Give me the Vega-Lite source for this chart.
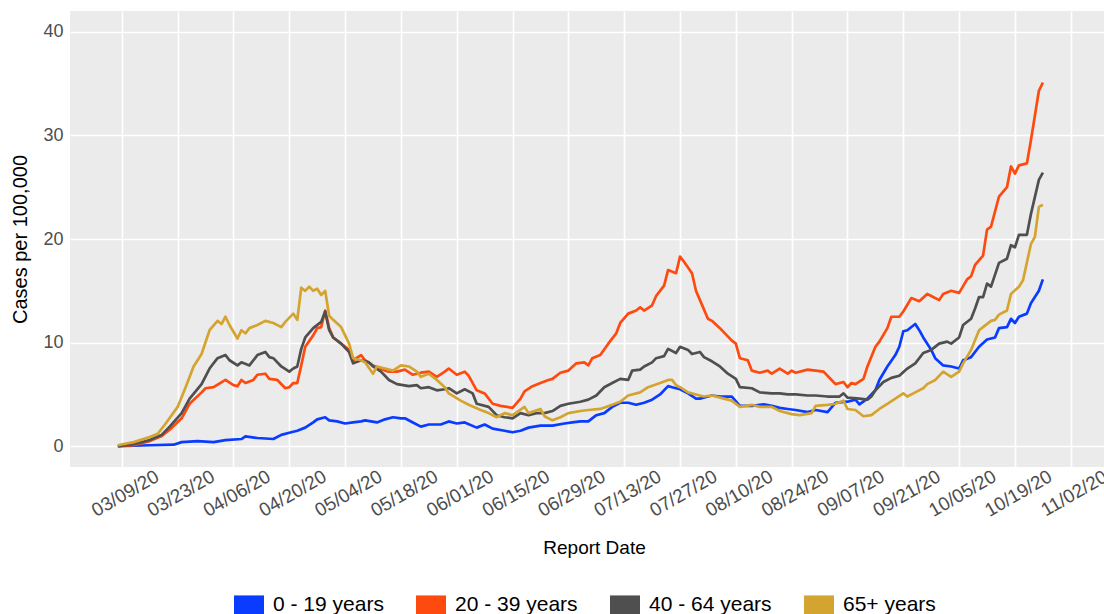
{
"$schema": "https://vega.github.io/schema/vega-lite/v6.json",
"autosize": {"type": "none"},
"padding": {"left": 70, "top": 11, "right": 0, "bottom": 147},
"width": 1034,
"height": 456,
"background": "#ffffff",
"config": {
  "view": {"fill": "#EBEBEB", "stroke": null},
  "font": "Liberation Sans"
},
"title": {"text": "7-Day Moving Average", "fontSize": 20, "fontWeight": "normal", "color": "#000000", "anchor": "middle", "baseline": "alphabetic", "offset": 9, "dx": 7, "frame": "group"},
"data": {"values": [
{"d":"2020-03-08","g":"0 - 19 years","v":0.0},
{"d":"2020-03-12","g":"0 - 19 years","v":0.05},
{"d":"2020-03-16","g":"0 - 19 years","v":0.1},
{"d":"2020-03-22","g":"0 - 19 years","v":0.15},
{"d":"2020-03-24","g":"0 - 19 years","v":0.4},
{"d":"2020-03-28","g":"0 - 19 years","v":0.5},
{"d":"2020-04-01","g":"0 - 19 years","v":0.4},
{"d":"2020-04-04","g":"0 - 19 years","v":0.6},
{"d":"2020-04-08","g":"0 - 19 years","v":0.7},
{"d":"2020-04-09","g":"0 - 19 years","v":0.95},
{"d":"2020-04-12","g":"0 - 19 years","v":0.8},
{"d":"2020-04-16","g":"0 - 19 years","v":0.7},
{"d":"2020-04-18","g":"0 - 19 years","v":1.1},
{"d":"2020-04-20","g":"0 - 19 years","v":1.3},
{"d":"2020-04-22","g":"0 - 19 years","v":1.5},
{"d":"2020-04-24","g":"0 - 19 years","v":1.8},
{"d":"2020-04-26","g":"0 - 19 years","v":2.3},
{"d":"2020-04-27","g":"0 - 19 years","v":2.6},
{"d":"2020-04-29","g":"0 - 19 years","v":2.8},
{"d":"2020-04-30","g":"0 - 19 years","v":2.5},
{"d":"2020-05-02","g":"0 - 19 years","v":2.4},
{"d":"2020-05-04","g":"0 - 19 years","v":2.2},
{"d":"2020-05-06","g":"0 - 19 years","v":2.3},
{"d":"2020-05-08","g":"0 - 19 years","v":2.4},
{"d":"2020-05-09","g":"0 - 19 years","v":2.5},
{"d":"2020-05-12","g":"0 - 19 years","v":2.3},
{"d":"2020-05-14","g":"0 - 19 years","v":2.6},
{"d":"2020-05-16","g":"0 - 19 years","v":2.8},
{"d":"2020-05-18","g":"0 - 19 years","v":2.7},
{"d":"2020-05-19","g":"0 - 19 years","v":2.7},
{"d":"2020-05-21","g":"0 - 19 years","v":2.3},
{"d":"2020-05-23","g":"0 - 19 years","v":1.9},
{"d":"2020-05-25","g":"0 - 19 years","v":2.1},
{"d":"2020-05-28","g":"0 - 19 years","v":2.1},
{"d":"2020-05-30","g":"0 - 19 years","v":2.4},
{"d":"2020-06-01","g":"0 - 19 years","v":2.2},
{"d":"2020-06-03","g":"0 - 19 years","v":2.3},
{"d":"2020-06-06","g":"0 - 19 years","v":1.8},
{"d":"2020-06-08","g":"0 - 19 years","v":2.1},
{"d":"2020-06-10","g":"0 - 19 years","v":1.7},
{"d":"2020-06-13","g":"0 - 19 years","v":1.5},
{"d":"2020-06-15","g":"0 - 19 years","v":1.35},
{"d":"2020-06-17","g":"0 - 19 years","v":1.5},
{"d":"2020-06-19","g":"0 - 19 years","v":1.8},
{"d":"2020-06-22","g":"0 - 19 years","v":2.0},
{"d":"2020-06-25","g":"0 - 19 years","v":2.0},
{"d":"2020-06-28","g":"0 - 19 years","v":2.2},
{"d":"2020-06-30","g":"0 - 19 years","v":2.3},
{"d":"2020-07-02","g":"0 - 19 years","v":2.4},
{"d":"2020-07-04","g":"0 - 19 years","v":2.4},
{"d":"2020-07-06","g":"0 - 19 years","v":3.0},
{"d":"2020-07-08","g":"0 - 19 years","v":3.2},
{"d":"2020-07-10","g":"0 - 19 years","v":3.8},
{"d":"2020-07-12","g":"0 - 19 years","v":4.2},
{"d":"2020-07-14","g":"0 - 19 years","v":4.2},
{"d":"2020-07-16","g":"0 - 19 years","v":4.0},
{"d":"2020-07-18","g":"0 - 19 years","v":4.2},
{"d":"2020-07-20","g":"0 - 19 years","v":4.5},
{"d":"2020-07-22","g":"0 - 19 years","v":5.0},
{"d":"2020-07-24","g":"0 - 19 years","v":5.8},
{"d":"2020-07-25","g":"0 - 19 years","v":5.7},
{"d":"2020-07-27","g":"0 - 19 years","v":5.5},
{"d":"2020-07-29","g":"0 - 19 years","v":5.1},
{"d":"2020-07-31","g":"0 - 19 years","v":4.6},
{"d":"2020-08-01","g":"0 - 19 years","v":4.6},
{"d":"2020-08-03","g":"0 - 19 years","v":4.8},
{"d":"2020-08-04","g":"0 - 19 years","v":4.9},
{"d":"2020-08-06","g":"0 - 19 years","v":4.8},
{"d":"2020-08-09","g":"0 - 19 years","v":4.8},
{"d":"2020-08-11","g":"0 - 19 years","v":3.9},
{"d":"2020-08-14","g":"0 - 19 years","v":3.9},
{"d":"2020-08-17","g":"0 - 19 years","v":4.05},
{"d":"2020-08-19","g":"0 - 19 years","v":3.9},
{"d":"2020-08-21","g":"0 - 19 years","v":3.7},
{"d":"2020-08-23","g":"0 - 19 years","v":3.6},
{"d":"2020-08-25","g":"0 - 19 years","v":3.5},
{"d":"2020-08-28","g":"0 - 19 years","v":3.3},
{"d":"2020-08-30","g":"0 - 19 years","v":3.5},
{"d":"2020-09-02","g":"0 - 19 years","v":3.3},
{"d":"2020-09-04","g":"0 - 19 years","v":4.2},
{"d":"2020-09-07","g":"0 - 19 years","v":4.3},
{"d":"2020-09-09","g":"0 - 19 years","v":4.5},
{"d":"2020-09-10","g":"0 - 19 years","v":4.05},
{"d":"2020-09-12","g":"0 - 19 years","v":4.6},
{"d":"2020-09-14","g":"0 - 19 years","v":5.4},
{"d":"2020-09-15","g":"0 - 19 years","v":6.4},
{"d":"2020-09-17","g":"0 - 19 years","v":7.7},
{"d":"2020-09-19","g":"0 - 19 years","v":8.8},
{"d":"2020-09-20","g":"0 - 19 years","v":9.6},
{"d":"2020-09-21","g":"0 - 19 years","v":11.1},
{"d":"2020-09-22","g":"0 - 19 years","v":11.2},
{"d":"2020-09-24","g":"0 - 19 years","v":11.8},
{"d":"2020-09-25","g":"0 - 19 years","v":11.2},
{"d":"2020-09-26","g":"0 - 19 years","v":10.5},
{"d":"2020-09-28","g":"0 - 19 years","v":9.3},
{"d":"2020-09-29","g":"0 - 19 years","v":8.5},
{"d":"2020-10-01","g":"0 - 19 years","v":7.8},
{"d":"2020-10-03","g":"0 - 19 years","v":7.7},
{"d":"2020-10-05","g":"0 - 19 years","v":7.5},
{"d":"2020-10-06","g":"0 - 19 years","v":8.3},
{"d":"2020-10-08","g":"0 - 19 years","v":8.6},
{"d":"2020-10-10","g":"0 - 19 years","v":9.6},
{"d":"2020-10-12","g":"0 - 19 years","v":10.3},
{"d":"2020-10-14","g":"0 - 19 years","v":10.5},
{"d":"2020-10-15","g":"0 - 19 years","v":11.4},
{"d":"2020-10-17","g":"0 - 19 years","v":11.5},
{"d":"2020-10-18","g":"0 - 19 years","v":12.3},
{"d":"2020-10-19","g":"0 - 19 years","v":11.9},
{"d":"2020-10-20","g":"0 - 19 years","v":12.5},
{"d":"2020-10-22","g":"0 - 19 years","v":12.8},
{"d":"2020-10-23","g":"0 - 19 years","v":13.8},
{"d":"2020-10-25","g":"0 - 19 years","v":15.0},
{"d":"2020-10-26","g":"0 - 19 years","v":16.1},
{"d":"2020-03-08","g":"20 - 39 years","v":0.0},
{"d":"2020-03-12","g":"20 - 39 years","v":0.1},
{"d":"2020-03-16","g":"20 - 39 years","v":0.5},
{"d":"2020-03-19","g":"20 - 39 years","v":1.0},
{"d":"2020-03-21","g":"20 - 39 years","v":1.6},
{"d":"2020-03-24","g":"20 - 39 years","v":2.7},
{"d":"2020-03-26","g":"20 - 39 years","v":4.1},
{"d":"2020-03-29","g":"20 - 39 years","v":5.2},
{"d":"2020-03-30","g":"20 - 39 years","v":5.6},
{"d":"2020-04-01","g":"20 - 39 years","v":5.7},
{"d":"2020-04-04","g":"20 - 39 years","v":6.4},
{"d":"2020-04-06","g":"20 - 39 years","v":5.9},
{"d":"2020-04-07","g":"20 - 39 years","v":5.8},
{"d":"2020-04-08","g":"20 - 39 years","v":6.4},
{"d":"2020-04-09","g":"20 - 39 years","v":6.1},
{"d":"2020-04-11","g":"20 - 39 years","v":6.4},
{"d":"2020-04-12","g":"20 - 39 years","v":6.9},
{"d":"2020-04-14","g":"20 - 39 years","v":7.0},
{"d":"2020-04-15","g":"20 - 39 years","v":6.5},
{"d":"2020-04-17","g":"20 - 39 years","v":6.4},
{"d":"2020-04-19","g":"20 - 39 years","v":5.6},
{"d":"2020-04-20","g":"20 - 39 years","v":5.7},
{"d":"2020-04-21","g":"20 - 39 years","v":6.1},
{"d":"2020-04-22","g":"20 - 39 years","v":6.1},
{"d":"2020-04-23","g":"20 - 39 years","v":7.8},
{"d":"2020-04-24","g":"20 - 39 years","v":9.6},
{"d":"2020-04-26","g":"20 - 39 years","v":10.7},
{"d":"2020-04-27","g":"20 - 39 years","v":11.4},
{"d":"2020-04-28","g":"20 - 39 years","v":11.5},
{"d":"2020-04-29","g":"20 - 39 years","v":13.1},
{"d":"2020-04-30","g":"20 - 39 years","v":11.4},
{"d":"2020-05-01","g":"20 - 39 years","v":10.5},
{"d":"2020-05-03","g":"20 - 39 years","v":9.9},
{"d":"2020-05-05","g":"20 - 39 years","v":9.3},
{"d":"2020-05-06","g":"20 - 39 years","v":8.3},
{"d":"2020-05-08","g":"20 - 39 years","v":8.8},
{"d":"2020-05-09","g":"20 - 39 years","v":8.3},
{"d":"2020-05-11","g":"20 - 39 years","v":7.8},
{"d":"2020-05-14","g":"20 - 39 years","v":7.3},
{"d":"2020-05-15","g":"20 - 39 years","v":7.2},
{"d":"2020-05-17","g":"20 - 39 years","v":7.2},
{"d":"2020-05-19","g":"20 - 39 years","v":7.4},
{"d":"2020-05-21","g":"20 - 39 years","v":6.9},
{"d":"2020-05-23","g":"20 - 39 years","v":7.1},
{"d":"2020-05-25","g":"20 - 39 years","v":7.2},
{"d":"2020-05-27","g":"20 - 39 years","v":6.7},
{"d":"2020-05-29","g":"20 - 39 years","v":7.2},
{"d":"2020-05-30","g":"20 - 39 years","v":7.5},
{"d":"2020-06-01","g":"20 - 39 years","v":6.9},
{"d":"2020-06-03","g":"20 - 39 years","v":7.2},
{"d":"2020-06-04","g":"20 - 39 years","v":6.8},
{"d":"2020-06-06","g":"20 - 39 years","v":5.4},
{"d":"2020-06-08","g":"20 - 39 years","v":5.1},
{"d":"2020-06-10","g":"20 - 39 years","v":4.1},
{"d":"2020-06-12","g":"20 - 39 years","v":3.9},
{"d":"2020-06-15","g":"20 - 39 years","v":3.7},
{"d":"2020-06-17","g":"20 - 39 years","v":4.6},
{"d":"2020-06-18","g":"20 - 39 years","v":5.3},
{"d":"2020-06-20","g":"20 - 39 years","v":5.8},
{"d":"2020-06-22","g":"20 - 39 years","v":6.1},
{"d":"2020-06-24","g":"20 - 39 years","v":6.4},
{"d":"2020-06-25","g":"20 - 39 years","v":6.5},
{"d":"2020-06-27","g":"20 - 39 years","v":7.1},
{"d":"2020-06-29","g":"20 - 39 years","v":7.3},
{"d":"2020-07-01","g":"20 - 39 years","v":8.0},
{"d":"2020-07-03","g":"20 - 39 years","v":8.1},
{"d":"2020-07-04","g":"20 - 39 years","v":7.8},
{"d":"2020-07-05","g":"20 - 39 years","v":8.5},
{"d":"2020-07-07","g":"20 - 39 years","v":8.8},
{"d":"2020-07-09","g":"20 - 39 years","v":9.9},
{"d":"2020-07-11","g":"20 - 39 years","v":10.9},
{"d":"2020-07-12","g":"20 - 39 years","v":11.9},
{"d":"2020-07-14","g":"20 - 39 years","v":12.8},
{"d":"2020-07-16","g":"20 - 39 years","v":13.1},
{"d":"2020-07-17","g":"20 - 39 years","v":13.4},
{"d":"2020-07-18","g":"20 - 39 years","v":13.1},
{"d":"2020-07-20","g":"20 - 39 years","v":13.6},
{"d":"2020-07-21","g":"20 - 39 years","v":14.5},
{"d":"2020-07-23","g":"20 - 39 years","v":15.5},
{"d":"2020-07-24","g":"20 - 39 years","v":17.0},
{"d":"2020-07-26","g":"20 - 39 years","v":16.7},
{"d":"2020-07-27","g":"20 - 39 years","v":18.3},
{"d":"2020-07-28","g":"20 - 39 years","v":17.8},
{"d":"2020-07-30","g":"20 - 39 years","v":16.7},
{"d":"2020-07-31","g":"20 - 39 years","v":15.0},
{"d":"2020-08-01","g":"20 - 39 years","v":14.1},
{"d":"2020-08-03","g":"20 - 39 years","v":12.3},
{"d":"2020-08-04","g":"20 - 39 years","v":12.1},
{"d":"2020-08-06","g":"20 - 39 years","v":11.4},
{"d":"2020-08-09","g":"20 - 39 years","v":10.2},
{"d":"2020-08-10","g":"20 - 39 years","v":9.9},
{"d":"2020-08-11","g":"20 - 39 years","v":8.5},
{"d":"2020-08-13","g":"20 - 39 years","v":8.3},
{"d":"2020-08-14","g":"20 - 39 years","v":7.3},
{"d":"2020-08-16","g":"20 - 39 years","v":7.1},
{"d":"2020-08-18","g":"20 - 39 years","v":7.3},
{"d":"2020-08-19","g":"20 - 39 years","v":7.0},
{"d":"2020-08-21","g":"20 - 39 years","v":7.5},
{"d":"2020-08-23","g":"20 - 39 years","v":7.0},
{"d":"2020-08-24","g":"20 - 39 years","v":7.3},
{"d":"2020-08-25","g":"20 - 39 years","v":7.1},
{"d":"2020-08-28","g":"20 - 39 years","v":7.4},
{"d":"2020-08-30","g":"20 - 39 years","v":7.3},
{"d":"2020-09-01","g":"20 - 39 years","v":7.2},
{"d":"2020-09-03","g":"20 - 39 years","v":6.4},
{"d":"2020-09-04","g":"20 - 39 years","v":6.0},
{"d":"2020-09-06","g":"20 - 39 years","v":6.2},
{"d":"2020-09-07","g":"20 - 39 years","v":5.7},
{"d":"2020-09-08","g":"20 - 39 years","v":6.1},
{"d":"2020-09-09","g":"20 - 39 years","v":6.0},
{"d":"2020-09-11","g":"20 - 39 years","v":6.5},
{"d":"2020-09-12","g":"20 - 39 years","v":7.7},
{"d":"2020-09-14","g":"20 - 39 years","v":9.6},
{"d":"2020-09-15","g":"20 - 39 years","v":10.1},
{"d":"2020-09-17","g":"20 - 39 years","v":11.4},
{"d":"2020-09-18","g":"20 - 39 years","v":12.5},
{"d":"2020-09-20","g":"20 - 39 years","v":12.5},
{"d":"2020-09-21","g":"20 - 39 years","v":13.0},
{"d":"2020-09-23","g":"20 - 39 years","v":14.3},
{"d":"2020-09-25","g":"20 - 39 years","v":14.0},
{"d":"2020-09-27","g":"20 - 39 years","v":14.7},
{"d":"2020-09-28","g":"20 - 39 years","v":14.5},
{"d":"2020-09-30","g":"20 - 39 years","v":14.1},
{"d":"2020-10-01","g":"20 - 39 years","v":14.7},
{"d":"2020-10-03","g":"20 - 39 years","v":15.0},
{"d":"2020-10-05","g":"20 - 39 years","v":14.8},
{"d":"2020-10-07","g":"20 - 39 years","v":16.1},
{"d":"2020-10-08","g":"20 - 39 years","v":16.4},
{"d":"2020-10-09","g":"20 - 39 years","v":17.5},
{"d":"2020-10-11","g":"20 - 39 years","v":18.4},
{"d":"2020-10-12","g":"20 - 39 years","v":20.9},
{"d":"2020-10-13","g":"20 - 39 years","v":21.2},
{"d":"2020-10-15","g":"20 - 39 years","v":24.1},
{"d":"2020-10-17","g":"20 - 39 years","v":25.0},
{"d":"2020-10-18","g":"20 - 39 years","v":27.0},
{"d":"2020-10-19","g":"20 - 39 years","v":26.3},
{"d":"2020-10-20","g":"20 - 39 years","v":27.1},
{"d":"2020-10-22","g":"20 - 39 years","v":27.3},
{"d":"2020-10-23","g":"20 - 39 years","v":29.5},
{"d":"2020-10-25","g":"20 - 39 years","v":34.3},
{"d":"2020-10-26","g":"20 - 39 years","v":35.1},
{"d":"2020-03-08","g":"40 - 64 years","v":0.0},
{"d":"2020-03-12","g":"40 - 64 years","v":0.2},
{"d":"2020-03-16","g":"40 - 64 years","v":0.6},
{"d":"2020-03-19","g":"40 - 64 years","v":1.1},
{"d":"2020-03-21","g":"40 - 64 years","v":1.9},
{"d":"2020-03-24","g":"40 - 64 years","v":3.2},
{"d":"2020-03-26","g":"40 - 64 years","v":4.6},
{"d":"2020-03-29","g":"40 - 64 years","v":6.0},
{"d":"2020-03-31","g":"40 - 64 years","v":7.5},
{"d":"2020-04-02","g":"40 - 64 years","v":8.5},
{"d":"2020-04-04","g":"40 - 64 years","v":8.8},
{"d":"2020-04-05","g":"40 - 64 years","v":8.3},
{"d":"2020-04-07","g":"40 - 64 years","v":7.8},
{"d":"2020-04-08","g":"40 - 64 years","v":8.1},
{"d":"2020-04-10","g":"40 - 64 years","v":7.8},
{"d":"2020-04-12","g":"40 - 64 years","v":8.8},
{"d":"2020-04-14","g":"40 - 64 years","v":9.1},
{"d":"2020-04-15","g":"40 - 64 years","v":8.6},
{"d":"2020-04-16","g":"40 - 64 years","v":8.5},
{"d":"2020-04-18","g":"40 - 64 years","v":7.7},
{"d":"2020-04-20","g":"40 - 64 years","v":7.2},
{"d":"2020-04-21","g":"40 - 64 years","v":7.5},
{"d":"2020-04-22","g":"40 - 64 years","v":7.7},
{"d":"2020-04-23","g":"40 - 64 years","v":9.4},
{"d":"2020-04-24","g":"40 - 64 years","v":10.5},
{"d":"2020-04-26","g":"40 - 64 years","v":11.4},
{"d":"2020-04-28","g":"40 - 64 years","v":12.0},
{"d":"2020-04-29","g":"40 - 64 years","v":13.0},
{"d":"2020-04-30","g":"40 - 64 years","v":11.2},
{"d":"2020-05-01","g":"40 - 64 years","v":10.5},
{"d":"2020-05-03","g":"40 - 64 years","v":9.9},
{"d":"2020-05-05","g":"40 - 64 years","v":9.1},
{"d":"2020-05-06","g":"40 - 64 years","v":8.0},
{"d":"2020-05-08","g":"40 - 64 years","v":8.3},
{"d":"2020-05-10","g":"40 - 64 years","v":8.1},
{"d":"2020-05-11","g":"40 - 64 years","v":7.7},
{"d":"2020-05-13","g":"40 - 64 years","v":7.2},
{"d":"2020-05-15","g":"40 - 64 years","v":6.4},
{"d":"2020-05-17","g":"40 - 64 years","v":6.0},
{"d":"2020-05-20","g":"40 - 64 years","v":5.8},
{"d":"2020-05-22","g":"40 - 64 years","v":5.9},
{"d":"2020-05-23","g":"40 - 64 years","v":5.6},
{"d":"2020-05-25","g":"40 - 64 years","v":5.7},
{"d":"2020-05-27","g":"40 - 64 years","v":5.4},
{"d":"2020-05-29","g":"40 - 64 years","v":5.5},
{"d":"2020-05-30","g":"40 - 64 years","v":5.6},
{"d":"2020-06-01","g":"40 - 64 years","v":5.1},
{"d":"2020-06-03","g":"40 - 64 years","v":5.5},
{"d":"2020-06-05","g":"40 - 64 years","v":5.1},
{"d":"2020-06-06","g":"40 - 64 years","v":4.1},
{"d":"2020-06-09","g":"40 - 64 years","v":3.8},
{"d":"2020-06-11","g":"40 - 64 years","v":3.0},
{"d":"2020-06-13","g":"40 - 64 years","v":2.8},
{"d":"2020-06-15","g":"40 - 64 years","v":2.7},
{"d":"2020-06-17","g":"40 - 64 years","v":3.2},
{"d":"2020-06-19","g":"40 - 64 years","v":3.0},
{"d":"2020-06-21","g":"40 - 64 years","v":3.2},
{"d":"2020-06-23","g":"40 - 64 years","v":3.2},
{"d":"2020-06-25","g":"40 - 64 years","v":3.4},
{"d":"2020-06-27","g":"40 - 64 years","v":3.9},
{"d":"2020-06-29","g":"40 - 64 years","v":4.1},
{"d":"2020-07-02","g":"40 - 64 years","v":4.3},
{"d":"2020-07-04","g":"40 - 64 years","v":4.5},
{"d":"2020-07-06","g":"40 - 64 years","v":4.9},
{"d":"2020-07-08","g":"40 - 64 years","v":5.7},
{"d":"2020-07-10","g":"40 - 64 years","v":6.1},
{"d":"2020-07-12","g":"40 - 64 years","v":6.5},
{"d":"2020-07-14","g":"40 - 64 years","v":6.4},
{"d":"2020-07-15","g":"40 - 64 years","v":7.3},
{"d":"2020-07-17","g":"40 - 64 years","v":7.4},
{"d":"2020-07-18","g":"40 - 64 years","v":7.7},
{"d":"2020-07-20","g":"40 - 64 years","v":8.1},
{"d":"2020-07-21","g":"40 - 64 years","v":8.5},
{"d":"2020-07-23","g":"40 - 64 years","v":8.7},
{"d":"2020-07-24","g":"40 - 64 years","v":9.4},
{"d":"2020-07-26","g":"40 - 64 years","v":9.0},
{"d":"2020-07-27","g":"40 - 64 years","v":9.6},
{"d":"2020-07-29","g":"40 - 64 years","v":9.3},
{"d":"2020-07-30","g":"40 - 64 years","v":8.9},
{"d":"2020-08-01","g":"40 - 64 years","v":9.1},
{"d":"2020-08-02","g":"40 - 64 years","v":8.6},
{"d":"2020-08-04","g":"40 - 64 years","v":8.2},
{"d":"2020-08-06","g":"40 - 64 years","v":7.7},
{"d":"2020-08-08","g":"40 - 64 years","v":7.0},
{"d":"2020-08-10","g":"40 - 64 years","v":6.5},
{"d":"2020-08-11","g":"40 - 64 years","v":5.7},
{"d":"2020-08-14","g":"40 - 64 years","v":5.6},
{"d":"2020-08-16","g":"40 - 64 years","v":5.2},
{"d":"2020-08-19","g":"40 - 64 years","v":5.1},
{"d":"2020-08-21","g":"40 - 64 years","v":5.1},
{"d":"2020-08-23","g":"40 - 64 years","v":5.0},
{"d":"2020-08-25","g":"40 - 64 years","v":5.0},
{"d":"2020-08-28","g":"40 - 64 years","v":4.9},
{"d":"2020-08-30","g":"40 - 64 years","v":4.9},
{"d":"2020-09-02","g":"40 - 64 years","v":4.8},
{"d":"2020-09-05","g":"40 - 64 years","v":4.8},
{"d":"2020-09-06","g":"40 - 64 years","v":5.1},
{"d":"2020-09-07","g":"40 - 64 years","v":4.7},
{"d":"2020-09-10","g":"40 - 64 years","v":4.6},
{"d":"2020-09-12","g":"40 - 64 years","v":4.5},
{"d":"2020-09-13","g":"40 - 64 years","v":4.8},
{"d":"2020-09-14","g":"40 - 64 years","v":5.4},
{"d":"2020-09-16","g":"40 - 64 years","v":6.2},
{"d":"2020-09-18","g":"40 - 64 years","v":6.6},
{"d":"2020-09-20","g":"40 - 64 years","v":6.8},
{"d":"2020-09-22","g":"40 - 64 years","v":7.5},
{"d":"2020-09-24","g":"40 - 64 years","v":8.0},
{"d":"2020-09-26","g":"40 - 64 years","v":9.0},
{"d":"2020-09-28","g":"40 - 64 years","v":9.3},
{"d":"2020-09-30","g":"40 - 64 years","v":9.9},
{"d":"2020-10-02","g":"40 - 64 years","v":10.1},
{"d":"2020-10-03","g":"40 - 64 years","v":9.9},
{"d":"2020-10-05","g":"40 - 64 years","v":10.5},
{"d":"2020-10-06","g":"40 - 64 years","v":11.7},
{"d":"2020-10-08","g":"40 - 64 years","v":12.3},
{"d":"2020-10-09","g":"40 - 64 years","v":13.3},
{"d":"2020-10-10","g":"40 - 64 years","v":14.4},
{"d":"2020-10-11","g":"40 - 64 years","v":14.4},
{"d":"2020-10-12","g":"40 - 64 years","v":15.7},
{"d":"2020-10-13","g":"40 - 64 years","v":15.4},
{"d":"2020-10-15","g":"40 - 64 years","v":17.7},
{"d":"2020-10-17","g":"40 - 64 years","v":18.1},
{"d":"2020-10-18","g":"40 - 64 years","v":19.4},
{"d":"2020-10-19","g":"40 - 64 years","v":19.2},
{"d":"2020-10-20","g":"40 - 64 years","v":20.4},
{"d":"2020-10-22","g":"40 - 64 years","v":20.4},
{"d":"2020-10-23","g":"40 - 64 years","v":22.4},
{"d":"2020-10-25","g":"40 - 64 years","v":25.7},
{"d":"2020-10-26","g":"40 - 64 years","v":26.4},
{"d":"2020-03-08","g":"65+ years","v":0.1},
{"d":"2020-03-12","g":"65+ years","v":0.4},
{"d":"2020-03-16","g":"65+ years","v":0.9},
{"d":"2020-03-18","g":"65+ years","v":1.2},
{"d":"2020-03-20","g":"65+ years","v":2.2},
{"d":"2020-03-23","g":"65+ years","v":3.8},
{"d":"2020-03-25","g":"65+ years","v":5.7},
{"d":"2020-03-27","g":"65+ years","v":7.7},
{"d":"2020-03-29","g":"65+ years","v":8.9},
{"d":"2020-03-31","g":"65+ years","v":11.2},
{"d":"2020-04-02","g":"65+ years","v":12.1},
{"d":"2020-04-03","g":"65+ years","v":11.8},
{"d":"2020-04-04","g":"65+ years","v":12.5},
{"d":"2020-04-05","g":"65+ years","v":11.7},
{"d":"2020-04-07","g":"65+ years","v":10.4},
{"d":"2020-04-08","g":"65+ years","v":11.2},
{"d":"2020-04-09","g":"65+ years","v":10.9},
{"d":"2020-04-10","g":"65+ years","v":11.4},
{"d":"2020-04-12","g":"65+ years","v":11.7},
{"d":"2020-04-14","g":"65+ years","v":12.1},
{"d":"2020-04-16","g":"65+ years","v":11.9},
{"d":"2020-04-18","g":"65+ years","v":11.5},
{"d":"2020-04-19","g":"65+ years","v":12.0},
{"d":"2020-04-21","g":"65+ years","v":12.8},
{"d":"2020-04-22","g":"65+ years","v":12.2},
{"d":"2020-04-23","g":"65+ years","v":15.3},
{"d":"2020-04-24","g":"65+ years","v":15.0},
{"d":"2020-04-25","g":"65+ years","v":15.4},
{"d":"2020-04-26","g":"65+ years","v":15.0},
{"d":"2020-04-27","g":"65+ years","v":15.2},
{"d":"2020-04-28","g":"65+ years","v":14.6},
{"d":"2020-04-29","g":"65+ years","v":15.0},
{"d":"2020-04-30","g":"65+ years","v":12.6},
{"d":"2020-05-01","g":"65+ years","v":12.2},
{"d":"2020-05-03","g":"65+ years","v":11.5},
{"d":"2020-05-04","g":"65+ years","v":10.7},
{"d":"2020-05-05","g":"65+ years","v":9.9},
{"d":"2020-05-06","g":"65+ years","v":8.5},
{"d":"2020-05-08","g":"65+ years","v":8.3},
{"d":"2020-05-09","g":"65+ years","v":8.1},
{"d":"2020-05-11","g":"65+ years","v":7.0},
{"d":"2020-05-12","g":"65+ years","v":7.7},
{"d":"2020-05-14","g":"65+ years","v":7.5},
{"d":"2020-05-16","g":"65+ years","v":7.3},
{"d":"2020-05-18","g":"65+ years","v":7.8},
{"d":"2020-05-20","g":"65+ years","v":7.7},
{"d":"2020-05-22","g":"65+ years","v":7.2},
{"d":"2020-05-23","g":"65+ years","v":6.7},
{"d":"2020-05-25","g":"65+ years","v":7.0},
{"d":"2020-05-27","g":"65+ years","v":6.4},
{"d":"2020-05-29","g":"65+ years","v":5.7},
{"d":"2020-05-30","g":"65+ years","v":5.1},
{"d":"2020-06-02","g":"65+ years","v":4.4},
{"d":"2020-06-04","g":"65+ years","v":4.0},
{"d":"2020-06-07","g":"65+ years","v":3.5},
{"d":"2020-06-09","g":"65+ years","v":3.2},
{"d":"2020-06-11","g":"65+ years","v":2.8},
{"d":"2020-06-13","g":"65+ years","v":3.2},
{"d":"2020-06-15","g":"65+ years","v":3.0},
{"d":"2020-06-18","g":"65+ years","v":3.8},
{"d":"2020-06-19","g":"65+ years","v":3.2},
{"d":"2020-06-22","g":"65+ years","v":3.6},
{"d":"2020-06-23","g":"65+ years","v":2.9},
{"d":"2020-06-25","g":"65+ years","v":2.5},
{"d":"2020-06-27","g":"65+ years","v":2.8},
{"d":"2020-06-29","g":"65+ years","v":3.2},
{"d":"2020-07-02","g":"65+ years","v":3.4},
{"d":"2020-07-04","g":"65+ years","v":3.5},
{"d":"2020-07-07","g":"65+ years","v":3.6},
{"d":"2020-07-10","g":"65+ years","v":4.0},
{"d":"2020-07-12","g":"65+ years","v":4.3},
{"d":"2020-07-14","g":"65+ years","v":4.9},
{"d":"2020-07-17","g":"65+ years","v":5.2},
{"d":"2020-07-19","g":"65+ years","v":5.7},
{"d":"2020-07-22","g":"65+ years","v":6.1},
{"d":"2020-07-24","g":"65+ years","v":6.4},
{"d":"2020-07-25","g":"65+ years","v":6.4},
{"d":"2020-07-26","g":"65+ years","v":5.9},
{"d":"2020-07-27","g":"65+ years","v":5.7},
{"d":"2020-07-29","g":"65+ years","v":5.2},
{"d":"2020-07-31","g":"65+ years","v":5.0},
{"d":"2020-08-02","g":"65+ years","v":4.8},
{"d":"2020-08-04","g":"65+ years","v":4.9},
{"d":"2020-08-05","g":"65+ years","v":4.8},
{"d":"2020-08-07","g":"65+ years","v":4.6},
{"d":"2020-08-09","g":"65+ years","v":4.4},
{"d":"2020-08-11","g":"65+ years","v":3.8},
{"d":"2020-08-14","g":"65+ years","v":4.0},
{"d":"2020-08-16","g":"65+ years","v":3.8},
{"d":"2020-08-19","g":"65+ years","v":3.8},
{"d":"2020-08-21","g":"65+ years","v":3.4},
{"d":"2020-08-24","g":"65+ years","v":3.1},
{"d":"2020-08-26","g":"65+ years","v":3.0},
{"d":"2020-08-29","g":"65+ years","v":3.2},
{"d":"2020-08-30","g":"65+ years","v":3.9},
{"d":"2020-09-02","g":"65+ years","v":4.0},
{"d":"2020-09-04","g":"65+ years","v":4.1},
{"d":"2020-09-06","g":"65+ years","v":4.4},
{"d":"2020-09-07","g":"65+ years","v":3.6},
{"d":"2020-09-09","g":"65+ years","v":3.5},
{"d":"2020-09-11","g":"65+ years","v":2.9},
{"d":"2020-09-13","g":"65+ years","v":3.0},
{"d":"2020-09-15","g":"65+ years","v":3.6},
{"d":"2020-09-17","g":"65+ years","v":4.1},
{"d":"2020-09-19","g":"65+ years","v":4.6},
{"d":"2020-09-21","g":"65+ years","v":5.1},
{"d":"2020-09-22","g":"65+ years","v":4.8},
{"d":"2020-09-24","g":"65+ years","v":5.2},
{"d":"2020-09-26","g":"65+ years","v":5.6},
{"d":"2020-09-27","g":"65+ years","v":6.0},
{"d":"2020-09-29","g":"65+ years","v":6.4},
{"d":"2020-10-01","g":"65+ years","v":7.2},
{"d":"2020-10-03","g":"65+ years","v":6.7},
{"d":"2020-10-05","g":"65+ years","v":7.2},
{"d":"2020-10-06","g":"65+ years","v":8.0},
{"d":"2020-10-08","g":"65+ years","v":9.3},
{"d":"2020-10-10","g":"65+ years","v":11.2},
{"d":"2020-10-11","g":"65+ years","v":11.5},
{"d":"2020-10-13","g":"65+ years","v":12.1},
{"d":"2020-10-14","g":"65+ years","v":12.2},
{"d":"2020-10-15","g":"65+ years","v":12.7},
{"d":"2020-10-17","g":"65+ years","v":13.1},
{"d":"2020-10-18","g":"65+ years","v":14.7},
{"d":"2020-10-20","g":"65+ years","v":15.4},
{"d":"2020-10-21","g":"65+ years","v":16.0},
{"d":"2020-10-23","g":"65+ years","v":19.5},
{"d":"2020-10-24","g":"65+ years","v":20.2},
{"d":"2020-10-25","g":"65+ years","v":23.1},
{"d":"2020-10-26","g":"65+ years","v":23.3}
]},
"mark": {"type": "line", "strokeWidth": 2.7, "strokeJoin": "round", "clip": true},
"encoding": {
  "x": {"field": "d", "type": "temporal",
    "scale": {"type": "utc", "domain": [{"year": 2020, "month": 2, "date": 25, "utc": true}, {"year": 2020, "month": 11, "date": 10, "hours": 8, "utc": true}]},
    "axis": {
      "title": "Report Date", "titleFontSize": 19, "titleFontWeight": "normal", "titleColor": "#000000",
      "titleX": 524, "titleY": 80, "titleAlign": "center", "titleBaseline": "middle",
      "values": [
        {"year": 2020, "month": 3, "date": 9, "utc": true},
        {"year": 2020, "month": 3, "date": 23, "utc": true},
        {"year": 2020, "month": 4, "date": 6, "utc": true},
        {"year": 2020, "month": 4, "date": 20, "utc": true},
        {"year": 2020, "month": 5, "date": 4, "utc": true},
        {"year": 2020, "month": 5, "date": 18, "utc": true},
        {"year": 2020, "month": 6, "date": 1, "utc": true},
        {"year": 2020, "month": 6, "date": 15, "utc": true},
        {"year": 2020, "month": 6, "date": 29, "utc": true},
        {"year": 2020, "month": 7, "date": 13, "utc": true},
        {"year": 2020, "month": 7, "date": 27, "utc": true},
        {"year": 2020, "month": 8, "date": 10, "utc": true},
        {"year": 2020, "month": 8, "date": 24, "utc": true},
        {"year": 2020, "month": 9, "date": 7, "utc": true},
        {"year": 2020, "month": 9, "date": 21, "utc": true},
        {"year": 2020, "month": 10, "date": 5, "utc": true},
        {"year": 2020, "month": 10, "date": 19, "utc": true},
        {"year": 2020, "month": 11, "date": 2, "utc": true}
      ],
      "labelExpr": "utcFormat(datum.value, '%m/%d/%y')",
      "labelAngle": -30, "labelAlign": "center", "labelBaseline": "middle", "labelPadding": 26, "labelOffset": 3,
      "labelFontSize": 19, "labelColor": "#4D4D4D", "labelOverlap": false, "labelBound": false, "labelFlush": false,
      "ticks": false, "domain": false, "grid": true, "gridColor": "#FFFFFF", "gridWidth": 1.6
    }
  },
  "y": {"field": "v", "type": "quantitative",
    "scale": {"domain": [-2, 42], "nice": false, "zero": false},
    "axis": {
      "title": "Cases per 100,000", "titleFontSize": 20, "titleFontWeight": "normal", "titleColor": "#000000",
      "titleX": -50, "titleY": 228, "titleAlign": "center", "titleBaseline": "middle", "titleAngle": -90,
      "values": [0, 10, 20, 30, 40],
      "labelFontSize": 18, "labelColor": "#4D4D4D", "labelPadding": 7,
      "ticks": false, "domain": false, "grid": true, "gridColor": "#FFFFFF", "gridWidth": 1.6
    }
  },
  "color": {"field": "g", "type": "nominal",
    "scale": {"domain": ["0 - 19 years", "20 - 39 years", "40 - 64 years", "65+ years"], "range": ["#0A3CFF", "#FF4A0F", "#4F4F4F", "#D4A430"]},
    "legend": {
      "title": null, "orient": "none", "direction": "horizontal", "legendX": 164, "legendY": 579,
      "symbolType": "M-1,-0.67H1V0.67H-1Z", "symbolSize": 900, "symbolStrokeWidth": 0, "symbolOpacity": 1,
      "labelFontSize": 21, "labelColor": "#000000", "labelOffset": 9, "columnPadding": 32, "padding": 0,
      "encode": {"symbols": {"update": {"fill": {"scale": "color", "field": "value"}, "fillOpacity": {"value": 1}, "strokeWidth": {"value": 0}}}}
    }
  }
}
}
